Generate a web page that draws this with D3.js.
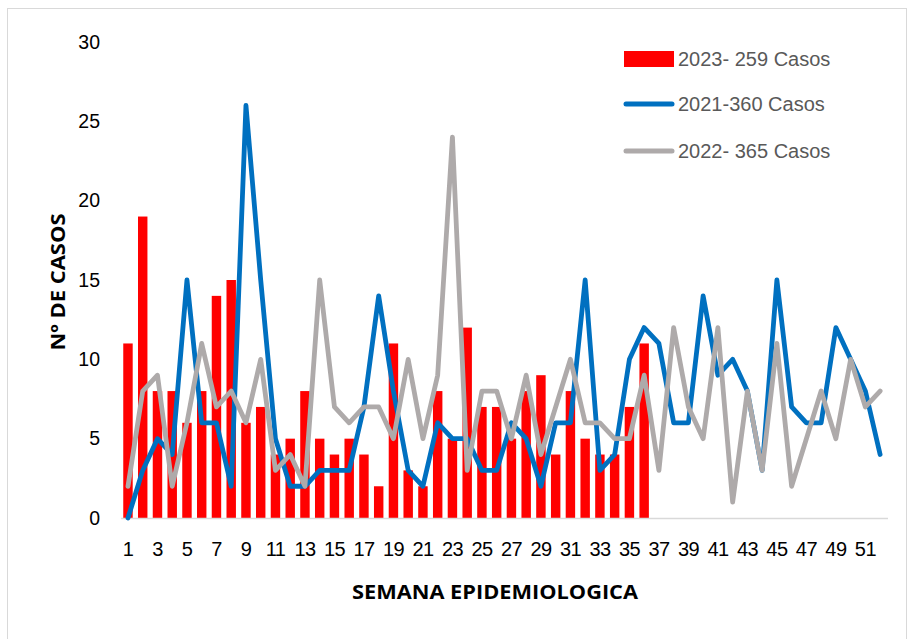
<!DOCTYPE html>
<html>
<head>
<meta charset="utf-8">
<script src="https://cdn.jsdelivr.net/npm/d3@7"></script>
<style>
  html, body { margin: 0; padding: 0; background: #fff; }
  svg { display: block; }
</style>
</head>
<body>
<svg id="chart" width="914" height="639"></svg>
<script>
const weeks = d3.range(1, 53);
const cases2023 = [11,19,8,8,6,8,14,15,6,7,4,5,8,5,4,5,4,2,11,3,2,8,5,12,7,7,5,8,9,4,8,5,4,4,7,11];
const cases2021 = [0,3,5,4,15,6,6,2,26,15,5,2,2,3,3,3,7,14,8,3,2,6,5,5,3,3,6,5,2,6,6,15,3,4,10,12,11,6,6,14,9,10,8,3,15,7,6,6,12,10,8,4];
const cases2022 = [2,8,9,2,6,11,7,8,6,10,3,4,2,15,7,6,7,7,5,10,5,9,24,3,8,8,5,9,4,7,10,6,6,5,5,9,3,12,7,5,12,1,8,3,11,2,5,8,5,10,7,8];
const yTicks = [0,5,10,15,20,25,30];
const legendLabels = ["2023- 259 Casos", "2021-360 Casos", "2022- 365 Casos"];
const colors = { bar: "#FF0000", blue: "#0070C0", gray: "#AEAAAA" };

const svg = d3.select("#chart");
const font = "'Liberation Sans Narrow', 'Arial Narrow', 'Liberation Sans', sans-serif";
const boldFont = "'Open Sans', 'Liberation Sans', sans-serif";

// outer frame
svg.append("rect").attr("x", 7.5).attr("y", 8.5).attr("width", 899).attr("height", 640)
  .attr("fill", "none").attr("stroke", "#D9D9D9").attr("stroke-width", 1);

const x = d3.scaleBand().domain(weeks).range([120.6, 887.5]).paddingInner(0.36).paddingOuter(0.18);
const y = d3.scaleLinear().domain([0, 30]).range([518, 42]);
const cx = w => x(w) + x.bandwidth() / 2;

// y axis labels
const yAxis = d3.axisLeft(y).tickValues(yTicks).tickSize(0).tickPadding(0);
const gy = svg.append("g").attr("transform", "translate(100,0)").call(yAxis);
gy.select(".domain").remove();
gy.selectAll("text").attr("font-family", font).attr("font-size", 19.5).attr("fill", "#000");

// bars
svg.append("g").selectAll("rect").data(cases2023).join("rect")
  .attr("x", (d, i) => x(weeks[i]))
  .attr("y", d => y(d))
  .attr("width", x.bandwidth())
  .attr("height", d => y(0) - y(d))
  .attr("fill", colors.bar);

// x axis
const xAxis = d3.axisBottom(x).tickValues(weeks.filter(w => w % 2 === 1)).tickSize(0).tickPadding(0);
const gx = svg.append("g").attr("transform", `translate(0,${y(0)})`).call(xAxis);
gx.select(".domain").attr("stroke", "#D9D9D9").attr("stroke-width", 1.5);
gx.selectAll("text").attr("font-family", font).attr("font-size", 20).attr("fill", "#000")
  .attr("letter-spacing", -0.6).attr("dy", "1.9em");

const line = d3.line().x((d, i) => cx(weeks[i])).y(d => y(d));
svg.append("path").datum(cases2021).attr("d", line)
  .attr("fill", "none").attr("stroke", colors.blue).attr("stroke-width", 4.8)
  .attr("stroke-linejoin", "round").attr("stroke-linecap", "round");
svg.append("path").datum(cases2022).attr("d", line)
  .attr("fill", "none").attr("stroke", colors.gray).attr("stroke-width", 4.8)
  .attr("stroke-linejoin", "round").attr("stroke-linecap", "round");

// axis titles
svg.append("text").attr("x", 495).attr("y", 599).attr("text-anchor", "middle")
  .attr("font-family", boldFont).attr("font-weight", "bold")
  .attr("font-size", 19.5).attr("textLength", 286).attr("lengthAdjust", "spacingAndGlyphs")
  .attr("fill", "#000").text("SEMANA EPIDEMIOLOGICA");
svg.append("text").attr("transform", "translate(65,282) rotate(-90)").attr("text-anchor", "middle")
  .attr("font-family", boldFont).attr("font-weight", "bold")
  .attr("font-size", 20).attr("textLength", 137).attr("lengthAdjust", "spacingAndGlyphs")
  .attr("fill", "#000").text("Nº DE CASOS");

// legend
const lg = svg.append("g");
lg.append("rect").attr("x", 624).attr("y", 51).attr("width", 50).attr("height", 16).attr("fill", colors.bar);
lg.append("line").attr("x1", 626).attr("x2", 672).attr("y1", 104).attr("y2", 104)
  .attr("stroke", colors.blue).attr("stroke-width", 5).attr("stroke-linecap", "round");
lg.append("line").attr("x1", 626).attr("x2", 672).attr("y1", 151).attr("y2", 151)
  .attr("stroke", colors.gray).attr("stroke-width", 5).attr("stroke-linecap", "round");
lg.selectAll("text").data(legendLabels).join("text")
  .attr("x", 678).attr("y", (d, i) => [59, 104, 151][i]).attr("dy", "0.35em")
  .attr("font-family", font).attr("font-size", 20).attr("fill", "#595959").text(d => d);
</script>
</body>
</html>
